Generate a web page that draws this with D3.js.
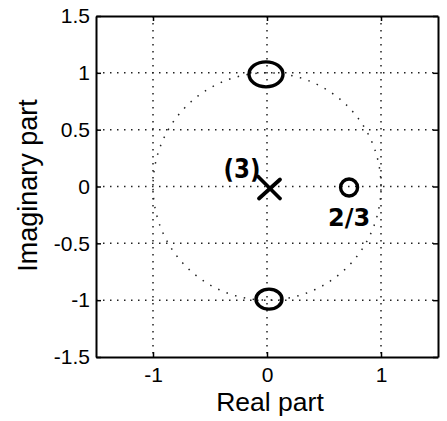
<!DOCTYPE html>
<html>
<head>
<meta charset="utf-8">
<script src="https://cdn.jsdelivr.net/npm/d3@7"></script>
<style>
html,body{margin:0;padding:0;background:#fff;}
svg{display:block;}
</style>
</head>
<body>
<svg id="chart" width="447" height="421"></svg>
<script>
// ---- data ----
const xTicks = [-1, 0, 1];
const yTicks = [-1.5, -1, -0.5, 0, 0.5, 1, 1.5];
const yTickLabels = ["-1.5", "-1", "-0.5", "0", "0.5", "1", "1.5"];
const xTickLabels = ["-1", "0", "1"];
const zerosRe = [0, 0, 0.72];
const zerosIm = [1, -1, 0];
const polesRe = [0];
const polesIm = [0];
const annotations = ["(3)", "2/3"];
const xLabel = "Real part";
const yLabel = "Imaginary part";

// ---- drawing ----
const svg = d3.select("#chart");
const L = 96, R = 438, T = 16, B = 357;
const x = d3.scaleLinear().domain([-1.5, 1.5]).range([L, R]);
const y = d3.scaleLinear().domain([-1.5, 1.5]).range([B, T]);
const font = "'Liberation Sans', Arial, Helvetica, sans-serif";

// grid
const grid = svg.append("g").attr("stroke", "#222").attr("stroke-width", 1.5)
  .attr("stroke-dasharray", "1.5,5.5").attr("fill", "none");
xTicks.forEach(v => grid.append("line").attr("x1", x(v)).attr("x2", x(v)).attr("y1", T).attr("y2", B));
yTicks.slice(1, -1).forEach(v => grid.append("line").attr("y1", y(v)).attr("y2", y(v)).attr("x1", L).attr("x2", R));

// unit circle
const circ = d3.range(0, 361, 1).map(a => [Math.cos(a * Math.PI / 180), Math.sin(a * Math.PI / 180)]);
svg.append("path")
  .attr("d", d3.line().x(d => x(d[0])).y(d => y(d[1]))(circ))
  .attr("fill", "none").attr("stroke", "#222").attr("stroke-width", 1.5)
  .attr("stroke-dasharray", "1.5,7.5");

// axes (MATLAB-like boxed, inward ticks)
const tickLen = 5;
const axB = d3.axisBottom(x).tickValues(xTicks).tickFormat((d, i) => xTickLabels[i]).tickSizeInner(-tickLen).tickSizeOuter(0).tickPadding(10);
const axT = d3.axisTop(x).tickValues(xTicks).tickFormat("").tickSizeInner(-tickLen).tickSizeOuter(0);
const axL = d3.axisLeft(y).tickValues(yTicks).tickFormat((d, i) => yTickLabels[i]).tickSizeInner(-tickLen).tickSizeOuter(0).tickPadding(6);
const axR = d3.axisRight(y).tickValues(yTicks).tickFormat("").tickSizeInner(-tickLen).tickSizeOuter(0);

function style(g) {
  g.selectAll("path.domain").attr("stroke", "#000").attr("stroke-width", 2);
  g.selectAll(".tick line").attr("stroke", "#000").attr("stroke-width", 1.5);
  g.selectAll(".tick text").attr("fill", "#000").attr("font-family", font).attr("font-size", 21);
}
svg.append("g").attr("transform", `translate(0,${B})`).call(axB).call(style);
svg.append("g").attr("transform", `translate(0,${T})`).call(axT).call(style);
svg.append("g").attr("transform", `translate(${L},0)`).call(axL).call(style);
svg.append("g").attr("transform", `translate(${R},0)`).call(axR).call(style);

// axis labels
svg.append("text").attr("x", x(0) + 3).attr("y", 411).attr("text-anchor", "middle")
  .attr("font-family", font).attr("font-size", 26.5).attr("fill", "#000").text(xLabel);
svg.append("text").attr("transform", `translate(37,${(T + B) / 2 - 1}) rotate(-90)`).attr("text-anchor", "middle")
  .attr("font-family", font).attr("font-size", 27).attr("fill", "#000").text(yLabel);

// zeros (hand-drawn circles)
const zr = [[17, 12.5], [13, 10], [8.5, 8.5]];
const zoff = [[-1, 1.5], [2, -1], [0, 1]];
svg.append("g").selectAll("ellipse").data(zerosRe).join("ellipse")
  .attr("cx", (d, i) => x(d) + zoff[i][0])
  .attr("cy", (d, i) => y(zerosIm[i]) + zoff[i][1])
  .attr("rx", (d, i) => zr[i][0]).attr("ry", (d, i) => zr[i][1])
  .attr("fill", "none").attr("stroke", "#000").attr("stroke-width", 3.4);

// poles (x)
const ps = 11;
const pg = svg.append("g").attr("stroke", "#000").attr("stroke-width", 3.8).attr("stroke-linecap", "round");
polesRe.forEach((re, i) => {
  const cx = x(re) + 2, cy = y(polesIm[i]) + 1;
  pg.append("line").attr("x1", cx - ps).attr("y1", cy - ps).attr("x2", cx + ps).attr("y2", cy + ps);
  pg.append("line").attr("x1", cx - ps + 1).attr("y1", cy + ps).attr("x2", cx + ps).attr("y2", cy - ps + 3);
});

// handwritten annotations
const hand = "'DejaVu Sans', sans-serif";
const ax0 = x(polesRe[0]) - 25, ay0 = y(polesIm[0]) - 8;
svg.append("text").attr("x", ax0).attr("y", ay0)
  .attr("text-anchor", "middle").attr("font-family", hand).attr("font-weight", "bold")
  .attr("font-size", 27).attr("fill", "#000")
  .attr("transform", `translate(${ax0},${ay0}) scale(0.85,1) translate(${-ax0},${-ay0})`)
  .text(annotations[0]);
svg.append("text").attr("x", x(zerosRe[2])).attr("y", y(zerosIm[2]) + 39)
  .attr("text-anchor", "middle").attr("font-family", hand).attr("font-weight", "bold")
  .attr("font-size", 24).attr("fill", "#000").text(annotations[1]);
</script>
</body>
</html>
